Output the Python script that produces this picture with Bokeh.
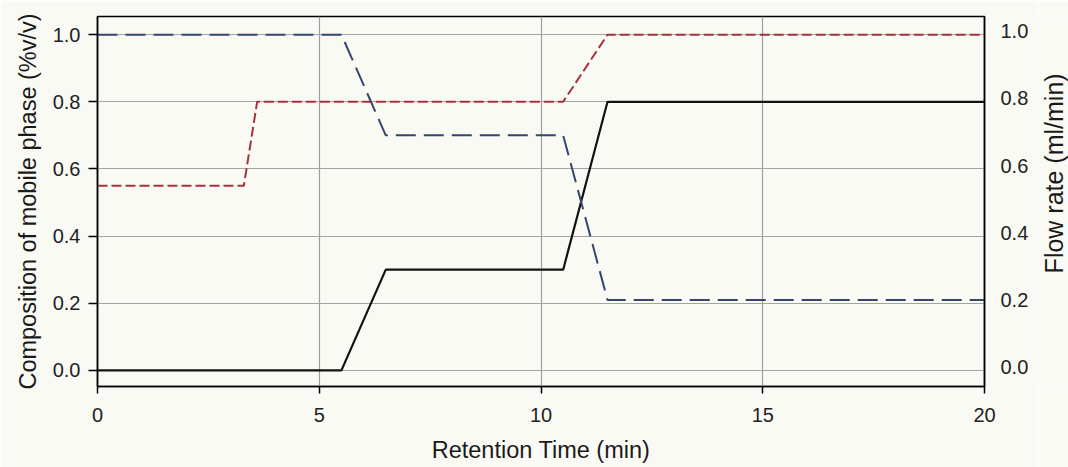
from bokeh.plotting import figure
from bokeh.models import Range1d, LinearAxis, FixedTicker
from bokeh.layouts import row
from bokeh.core.properties import value
from bokeh.embed import file_html
from bokeh.resources import INLINE
from math import pi

# ---- data ----
time_blue = [0, 5.5, 6.5, 10.5, 11.5, 20]
comp_blue = [1.0, 1.0, 0.7, 0.7, 0.21, 0.21]

time_red = [0, 3.3, 3.6, 10.5, 11.5, 20]
comp_red = [0.55, 0.55, 0.8, 0.8, 1.0, 1.0]

time_flow = [0, 5.5, 6.5, 10.5, 11.5, 20]
flow_rate = [0.0, 0.0, 0.3, 0.3, 0.8, 0.8]

x_ticks = [0, 5, 10, 15, 20]
y_ticks = [0.0, 0.2, 0.4, 0.6, 0.8, 1.0]
y_tick_labels = {0.0: "0.0", 0.2: "0.2", 0.4: "0.4", 0.6: "0.6", 0.8: "0.8", 1.0: "1.0"}

x_title = "Retention Time (min)"
left_title = "Composition of mobile phase (%v/v)"
right_title = "Flow rate (ml/min)"

FONT = "Liberation Sans"
BG = "#fafaf5"

p = figure(width=1038, height=467, output_backend="svg", toolbar_location=None,
           x_range=Range1d(0, 20), y_range=Range1d(-0.048, 1.054),
           min_border_left=97, min_border_right=54, min_border_top=16, min_border_bottom=81,
           background_fill_color=BG, border_fill_color=BG)

p.extra_y_ranges = {"right": Range1d(-0.058, 1.044)}

p.outline_line_color = "black"
p.outline_line_width = 1.5

# x axis
xa = p.xaxis[0]
xa.ticker = FixedTicker(ticks=x_ticks)
xa.axis_label = x_title
xa.axis_label_text_font = FONT
xa.axis_label_text_font_size = "23.5px"
xa.axis_label_text_font_style = "normal"
xa.axis_label_text_color = "#1a1a1a"
xa.axis_label_standoff = 12
xa.major_label_text_font = FONT
xa.major_label_text_font_size = "20px"
xa.major_label_text_color = "#222222"
xa.major_label_standoff = 14
xa.major_tick_out = 7
xa.major_tick_in = 0
xa.minor_tick_out = 0
xa.minor_tick_in = 0
xa.axis_line_color = "black"
xa.axis_line_width = 1.5
xa.major_tick_line_color = "black"
xa.major_tick_line_width = 1.5

# left y axis
ya = p.yaxis[0]
ya.ticker = FixedTicker(ticks=y_ticks)
ya.major_label_overrides = y_tick_labels
ya.axis_label = left_title
ya.axis_label_text_font = FONT
ya.axis_label_text_font_size = "23.5px"
ya.axis_label_text_font_style = "normal"
ya.axis_label_text_color = "#1a1a1a"
ya.axis_label_standoff = 9
ya.major_label_text_font = FONT
ya.major_label_text_font_size = "20px"
ya.major_label_text_color = "#222222"
ya.major_label_standoff = 8
ya.major_tick_out = 9
ya.major_tick_in = 0
ya.minor_tick_out = 0
ya.minor_tick_in = 0
ya.axis_line_color = "black"
ya.axis_line_width = 1.5
ya.major_tick_line_color = "black"
ya.major_tick_line_width = 1.5

# right y axis (numbers only; its title is drawn in the strip next to it)
ra = LinearAxis(y_range_name="right", ticker=FixedTicker(ticks=y_ticks))
ra.major_label_overrides = y_tick_labels
ra.major_label_text_font = FONT
ra.major_label_text_font_size = "20px"
ra.major_label_text_color = "#222222"
ra.major_label_standoff = 16
ra.major_tick_out = 0
ra.major_tick_in = 0
ra.minor_tick_out = 0
ra.minor_tick_in = 0
ra.axis_line_color = "black"
ra.axis_line_width = 1.5
p.add_layout(ra, "right")

# grids
p.xgrid.grid_line_color = "#9e9e9e"
p.xgrid.grid_line_width = 1.2
p.ygrid.grid_line_color = "#a4a4a4"
p.ygrid.grid_line_width = 1.2

# series
p.line(time_flow, flow_rate, line_color="#111111", line_width=2.2)
p.line(time_red, comp_red, line_color="#a8323c", line_width=2, line_dash="10 4")
p.line(time_blue, comp_blue, line_color="#34466e", line_width=2, line_dash="20 8")

# narrow strip holding the right-hand title, reading bottom-to-top
t = figure(width=30, height=467, output_backend="svg", toolbar_location=None,
           x_range=Range1d(0, 1), y_range=Range1d(0, 1),
           x_axis_location=None, y_axis_location=None,
           min_border_left=0, min_border_right=0, min_border_top=0, min_border_bottom=0,
           background_fill_color=BG, border_fill_color=BG)
t.outline_line_color = None
t.grid.visible = False
t.text(x=[0.53], y=[0.576], text=[right_title], angle=pi / 2,
       text_align="center", text_baseline="middle",
       text_font=value(FONT), text_font_size="25px", text_color="#1a1a1a")

layout = row(p, t, spacing=0)
open("out.html", "w").write(file_html(layout, INLINE))
